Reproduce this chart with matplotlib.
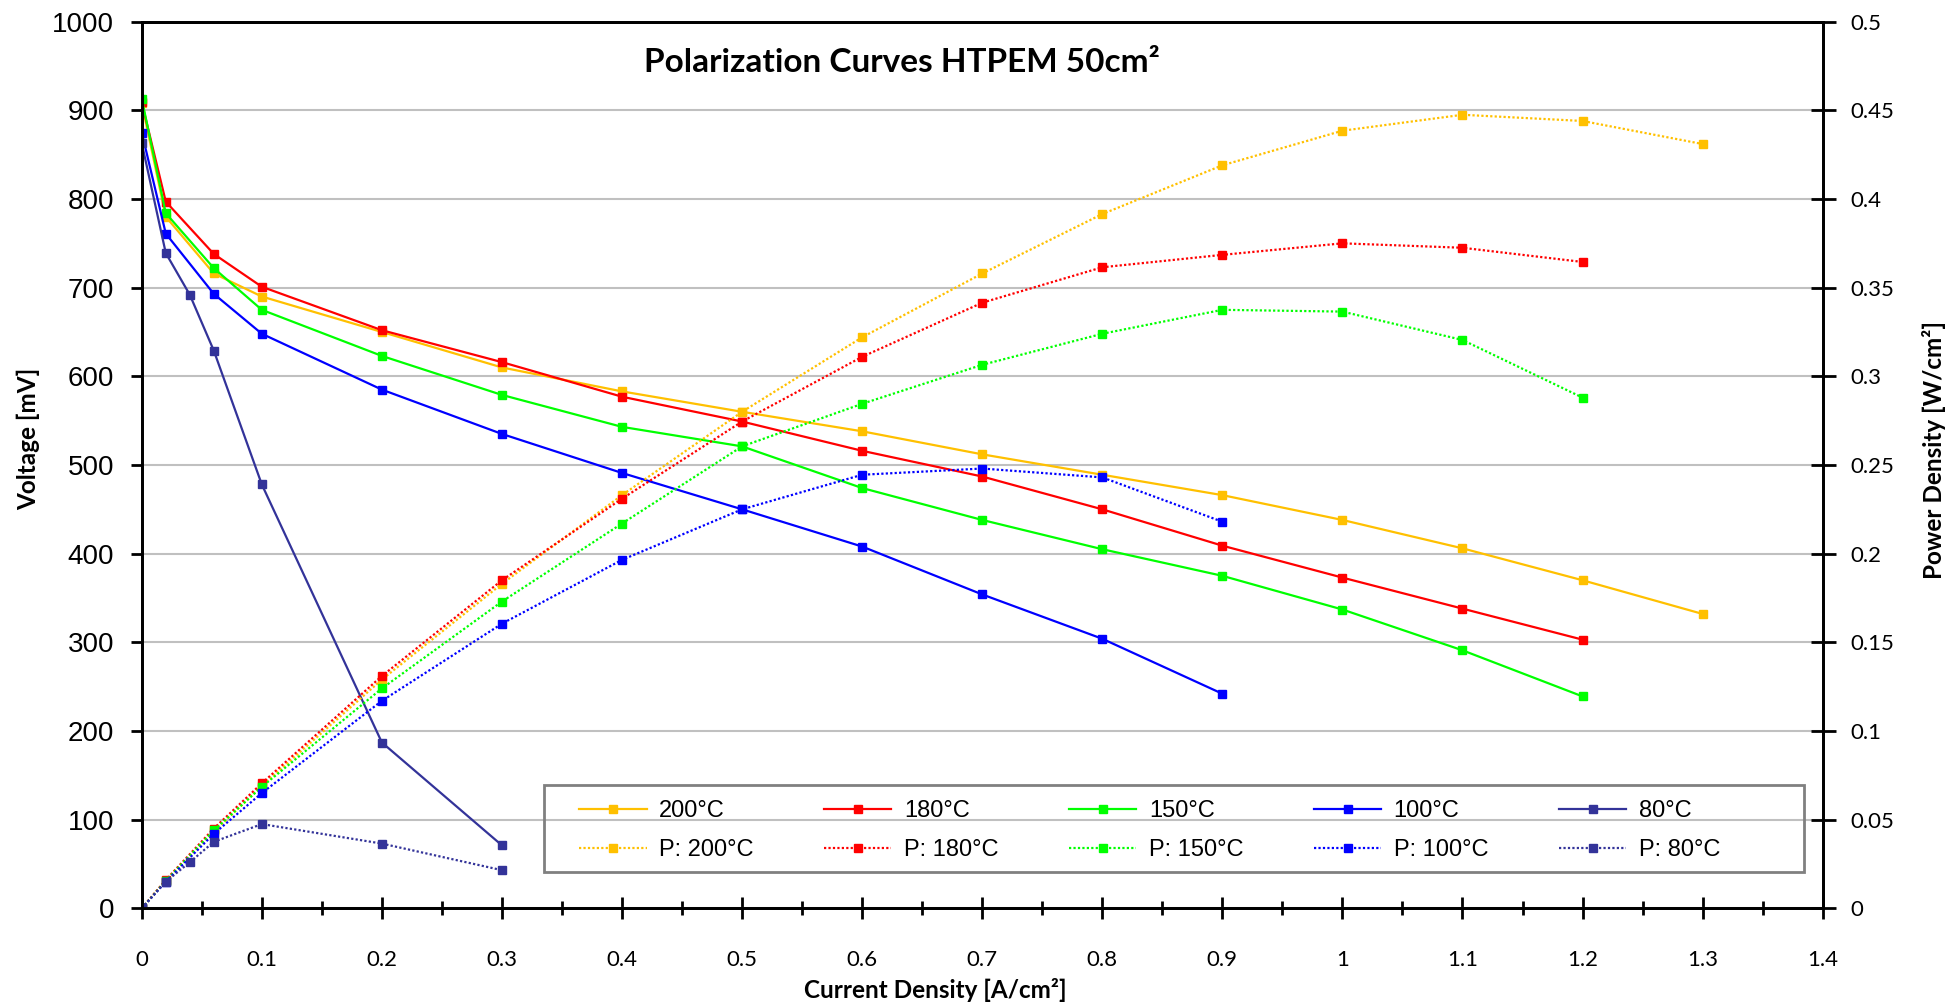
import matplotlib
matplotlib.use("Agg")
import matplotlib.pyplot as plt
from matplotlib.patches import Rectangle
from matplotlib.ticker import MultipleLocator, FuncFormatter

# current density [A/cm2]
x_200 = [0, 0.02, 0.06, 0.1, 0.2, 0.3, 0.4, 0.5, 0.6, 0.7, 0.8, 0.9, 1.0, 1.1, 1.2, 1.3]
x_180 = [0, 0.02, 0.06, 0.1, 0.2, 0.3, 0.4, 0.5, 0.6, 0.7, 0.8, 0.9, 1.0, 1.1, 1.2]
x_150 = [0, 0.02, 0.06, 0.1, 0.2, 0.3, 0.4, 0.5, 0.6, 0.7, 0.8, 0.9, 1.0, 1.1, 1.2]
x_100 = [0, 0.02, 0.06, 0.1, 0.2, 0.3, 0.4, 0.5, 0.6, 0.7, 0.8, 0.9]
x_80 = [0, 0.02, 0.04, 0.06, 0.1, 0.2, 0.3]

# voltage [mV]
v_200 = [908, 780, 716, 690, 650, 610, 583, 560, 538, 512, 489, 466, 438, 406, 370, 332]
v_180 = [909, 797, 738, 701, 652, 616, 577, 549, 516, 487, 450, 409, 373, 338, 303]
v_150 = [913, 784, 722, 675, 623, 579, 543, 521, 474, 438, 405, 375, 337, 291, 239]
v_100 = [875, 761, 693, 648, 585, 535, 491, 450, 408, 354, 304, 242]
v_80 = [863, 739, 692, 629, 478, 187, 71]

# power density [W/cm2]
p_200 = [0, 0.0155, 0.043, 0.069, 0.129, 0.183, 0.233, 0.28, 0.322, 0.358, 0.3915,
         0.419, 0.4385, 0.4475, 0.444, 0.431]
p_180 = [0, 0.016, 0.045, 0.0705, 0.131, 0.185, 0.231, 0.2745, 0.311, 0.3415, 0.3615,
         0.3685, 0.375, 0.3725, 0.3645]
p_150 = [0, 0.0155, 0.044, 0.0685, 0.124, 0.173, 0.217, 0.2605, 0.2845, 0.3065, 0.324,
         0.3375, 0.3365, 0.3205, 0.288]
p_100 = [0, 0.015, 0.042, 0.065, 0.117, 0.1605, 0.1965, 0.225, 0.2445, 0.248, 0.243, 0.218]
p_80 = [0, 0.015, 0.026, 0.0375, 0.0475, 0.0365, 0.0215]

temps = ['200°C', '180°C', '150°C', '100°C', '80°C']
colors = ['#FFC000', '#FF0000', '#00FF00', '#0000FF', '#333399']

series = [
    (x_200, v_200, p_200),
    (x_180, v_180, p_180),
    (x_150, v_150, p_150),
    (x_100, v_100, p_100),
    (x_80, v_80, p_80),
]

fig = plt.figure(figsize=(19.5, 10.08), dpi=100)
ax = fig.add_axes([0.0727, 0.0989, 0.862, 0.8796])
ax2 = ax.twinx()

handles = []
for (xs, vs, ps), t, c in zip(series, temps, colors):
    hv, = ax.plot(xs, vs, color=c, lw=1.6, marker='s', ms=5.5, mec=c, mfc=c,
                  label=t)
    hp, = ax2.plot(xs, ps, color=c, lw=1.6, ls=(0, (1, 1)), marker='s', ms=5.5,
                   mec=c, mfc=c, label='P: ' + t)
    handles += [hv, hp]

ax.set_xlim(0, 1.4)
ax.set_ylim(0, 1000)
ax2.set_ylim(0, 0.5)

ax.set_axisbelow(True)
ax.yaxis.grid(True, color='#C0C0C0', lw=1.5)
ax.yaxis.set_major_locator(MultipleLocator(100))
ax.xaxis.set_major_locator(MultipleLocator(0.1))
ax.xaxis.set_minor_locator(MultipleLocator(0.05))
ax2.yaxis.set_major_locator(MultipleLocator(0.05))

ax.xaxis.set_major_formatter(FuncFormatter(lambda v, p: f'{v:.1f}'.rstrip('0').rstrip('.') if v else '0'))
ax2.yaxis.set_major_formatter(FuncFormatter(lambda v, p: f'{v:.2f}'.rstrip('0').rstrip('.') if v else '0'))

for a in (ax, ax2):
    for s in a.spines.values():
        s.set_linewidth(2)
        s.set_color('black')

ax.tick_params(axis='y', direction='out', length=8, width=2, pad=12,
               labelsize=20, labelfontfamily='Liberation Sans')
ax.tick_params(axis='x', which='major', direction='inout', length=16, width=2,
               pad=22, labelsize=16, labelfontfamily='Lato')
ax.tick_params(axis='x', which='minor', direction='inout', length=10, width=2)
ax2.tick_params(axis='y', direction='inout', length=18, width=2, pad=11,
                labelsize=16, labelfontfamily='Lato')

lab_font = dict(fontsize=17.5, fontweight='bold', family='Lato')
ax.set_xlabel('Current Density [A/cm²]', **lab_font)
ax.xaxis.set_label_coords(0.472, -0.092)
ax.xaxis.label.set_va('center')
ax.set_ylabel('Voltage [mV]', **lab_font)
ax.yaxis.set_label_coords(-0.0676, 0.529)
ax.yaxis.label.set_va('center')
ax2.set_ylabel('Power Density [W/cm²]', **lab_font)
ax2.yaxis.set_label_coords(1.0662, 0.517)
ax2.yaxis.label.set_va('center')

ax.text(0.452, 0.9535, 'Polarization Curves HTPEM 50cm²', transform=ax.transAxes,
        ha='center', va='center', fontsize=24, fontweight='bold', family='Lato')

leg = ax2.legend(handles=handles, ncol=5, loc='center left',
                 bbox_to_anchor=(0.2604, 0.0876), frameon=False,
                 borderaxespad=0, borderpad=0,
                 prop={'family': 'Liberation Sans', 'size': 17},
                 handlelength=2.84, handletextpad=0.53, labelspacing=0.69,
                 columnspacing=3.0)
ax2.add_patch(Rectangle((0.239, 0.041), 0.75, 0.098, transform=ax2.transAxes,
                        fill=False, edgecolor='#808080', lw=2, zorder=5))

fig.savefig('out.png', dpi=100)
